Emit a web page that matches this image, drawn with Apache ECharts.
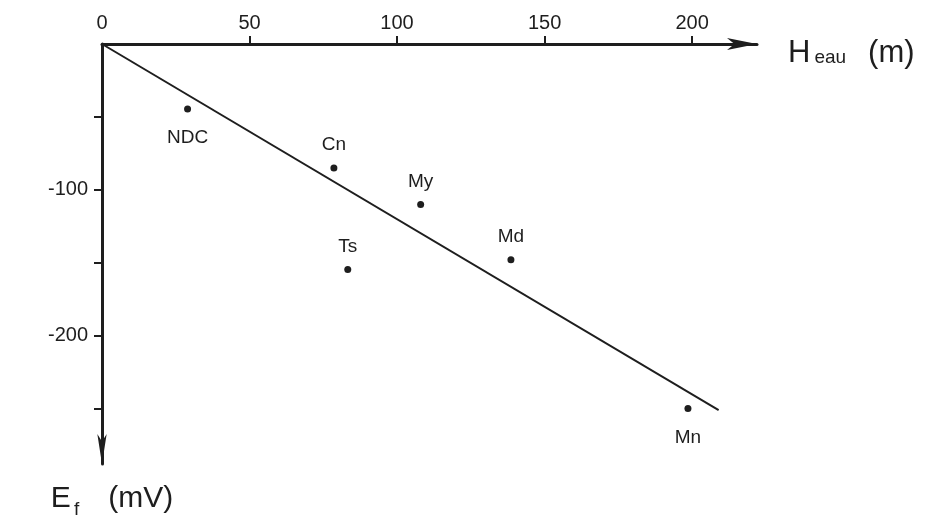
<!DOCTYPE html>
<html><head><meta charset="utf-8">
<script src="https://cdn.jsdelivr.net/npm/echarts@6/dist/echarts.min.js"></script>
<style>html,body{margin:0;padding:0;background:#fff}#c{width:925px;height:518px}</style>
</head><body><div id="c"></div>
<script>
// Data
const pointNames = ['NDC', 'Cn', 'My', 'Ts', 'Md', 'Mn'];
const pointX = [29, 78.6, 108, 83.3, 138.6, 198.6];     // H eau (m)
const pointY = [-44.5, -85, -110, -154.6, -148, -250];  // E f (mV)
const fitX = [0, 209];
const fitY = [0, -251];
const xTickValues = [0, 50, 100, 150, 200];
const yTickLabels = [-100, -200];
const yTickValues = [-50, -100, -150, -200, -250];

const labelsBelow = ['NDC', 'Mn'];
const ink = '#1e1e1e';
const font = 'Liberation Sans';

const scatterData = pointNames.map((n, i) => {
  const below = labelsBelow.includes(n);
  return {
    name: n, value: [pointX[i], pointY[i]],
    label: { position: below ? 'bottom' : 'top', distance: below ? 16 : 10 }
  };
});

const chart = echarts.init(document.getElementById('c'));
chart.setOption({
  animation: false,
  backgroundColor: '#fff',
  grid: { left: 102, top: 44, right: 168, bottom: 54, containLabel: false, outerBoundsMode: 'none' },
  xAxis: {
    type: 'value', position: 'top', min: 0, max: 222,
    splitLine: { show: false },
    axisLine: { onZero: false, lineStyle: { color: ink, width: 3 },
      symbol: ['none', 'arrow'], symbolSize: [9, 30] },
    axisTick: { show: true, length: 8, lineStyle: { color: ink, width: 2 },
      customValues: xTickValues.filter(v => v !== 0) },
    axisLabel: { customValues: xTickValues, margin: 11, color: ink,
      fontFamily: font, fontSize: 20 },
    name: '{H|H}{s|eau}{H|(m)}', nameLocation: 'end', nameGap: 31,
    nameTextStyle: { padding: [18, 0, 0, 0], rich: {
      H: { fontSize: 31, fontFamily: font, color: ink },
      s: { fontSize: 19, fontFamily: font, color: ink, letterSpacing: 2, padding: [9, 22, 0, 4] }
    } }
  },
  yAxis: {
    type: 'value', min: -288, max: 0,
    splitLine: { show: false },
    axisLine: { onZero: false, lineStyle: { color: ink, width: 3 },
      symbol: ['arrow', 'none'], symbolSize: [7, 30] },
    axisTick: { show: true, length: 8, lineStyle: { color: ink, width: 2 },
      customValues: yTickValues },
    axisLabel: { customValues: yTickLabels, margin: 14, color: ink,
      fontFamily: font, fontSize: 20 },
    name: '{E|E}{f|f}{E|(mV)}', nameLocation: 'start', nameGap: 14,
    nameTextStyle: { align: 'center', padding: [0, 0, 0, 20], rich: {
      E: { fontSize: 30, fontFamily: font, color: ink },
      f: { fontSize: 19, fontFamily: font, color: ink, padding: [22, 29, 0, 3] }
    } }
  },
  series: [
    {
      type: 'line', data: fitX.map((x, i) => [x, fitY[i]]),
      showSymbol: false, symbol: 'none',
      lineStyle: { color: ink, width: 2 }, silent: true, z: 2
    },
    {
      type: 'scatter', data: scatterData, symbol: 'circle', symbolSize: 7,
      itemStyle: { color: ink, opacity: 1 },
      label: { show: true, formatter: '{b}', color: ink, fontFamily: font, fontSize: 19 },
      z: 3
    }
  ]
});
</script></body></html>
